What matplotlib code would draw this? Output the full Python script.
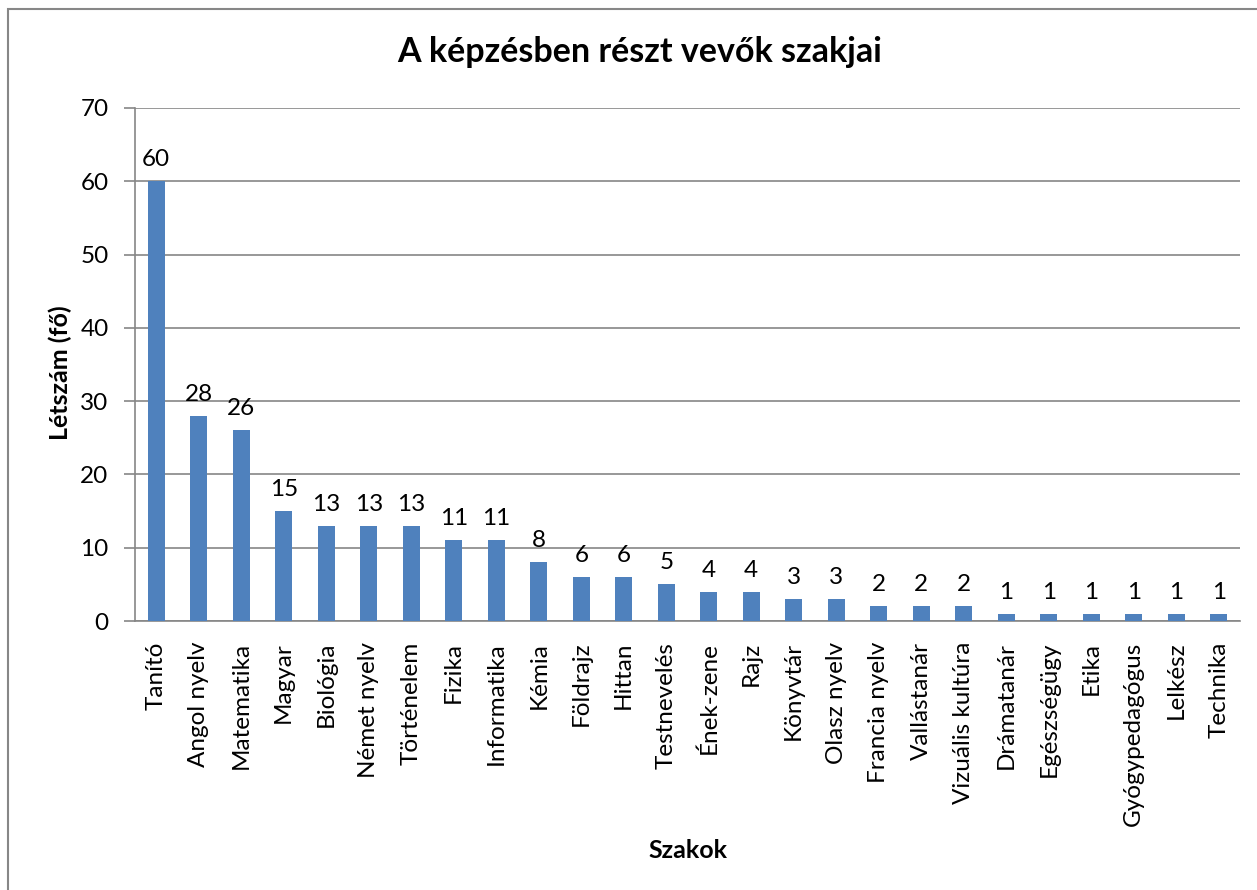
import matplotlib
matplotlib.use("Agg")
import matplotlib.pyplot as plt
from matplotlib.patches import Rectangle
import numpy as np

plt.rcParams['font.family'] = ['Lato', 'DejaVu Sans']

szakok = ['Tanító', 'Angol nyelv', 'Matematika', 'Magyar', 'Biológia',
          'Német nyelv', 'Történelem', 'Fizika', 'Informatika', 'Kémia',
          'Földrajz', 'Hittan', 'Testnevelés', 'Ének-zene', 'Rajz',
          'Könyvtár', 'Olasz nyelv', 'Francia nyelv', 'Vallástanár',
          'Vizuális kultúra', 'Drámatanár', 'Egészségügy', 'Etika',
          'Gyógypedagógus', 'Lelkész', 'Technika']
letszam = [60, 28, 26, 15, 13, 13, 13, 11, 11, 8, 6, 6, 5, 4, 4, 3, 3,
           2, 2, 2, 1, 1, 1, 1, 1, 1]
y_ticks = [0, 10, 20, 30, 40, 50, 60, 70]

W, H = 1257, 890
fig = plt.figure(figsize=(W / 100, H / 100), dpi=100)

# chart border (cut off at right and bottom like the screenshot)
fig.patches.append(Rectangle((8 / W, -0.1), 1.2, 1 - 9 / H + 0.1,
                             transform=fig.transFigure, fill=False,
                             edgecolor='#878787', linewidth=1.5))

ax = fig.add_axes([135 / W, 1 - 621 / H, (1240 - 135) / W, (621 - 108) / H])
x = np.arange(len(szakok))
ax.bar(x, letszam, width=0.40, color='#4F81BD', zorder=3)

ax.set_xlim(-0.5, len(szakok) - 0.5)
ax.set_ylim(0, 70)
ax.set_yticks(y_ticks)
ax.yaxis.grid(True, color='#868686', linewidth=1.2, zorder=0)

for s in ['top', 'right']:
    ax.spines[s].set_visible(False)
for s in ['left', 'bottom']:
    ax.spines[s].set_color('#868686')
    ax.spines[s].set_linewidth(1.2)

ax.tick_params(axis='y', length=8, width=1.2, color='#868686',
               labelsize=17.5, pad=11)
ax.set_xticks(x)
ax.set_xticklabels(szakok, rotation=90, fontsize=17.5)
ax.tick_params(axis='x', length=0, pad=15)

for xi, v in zip(x, letszam):
    ax.annotate(str(v), (xi, v), xytext=(0, 8), textcoords='offset points',
                ha='center', va='bottom', fontsize=17.5)

fig.text(640 / W, 1 - 52 / H, 'A képzésben részt vevők szakjai',
         ha='center', va='center', fontsize=24.5, fontweight='bold')
fig.text(60 / W, 1 - 373 / H, 'Létszám (fő)', rotation=90,
         ha='center', va='center', fontsize=18, fontweight='bold')
fig.text(688 / W, 1 - 850 / H, 'Szakok', ha='center', va='center',
         fontsize=18, fontweight='bold')

fig.savefig('out.png', dpi=100)
